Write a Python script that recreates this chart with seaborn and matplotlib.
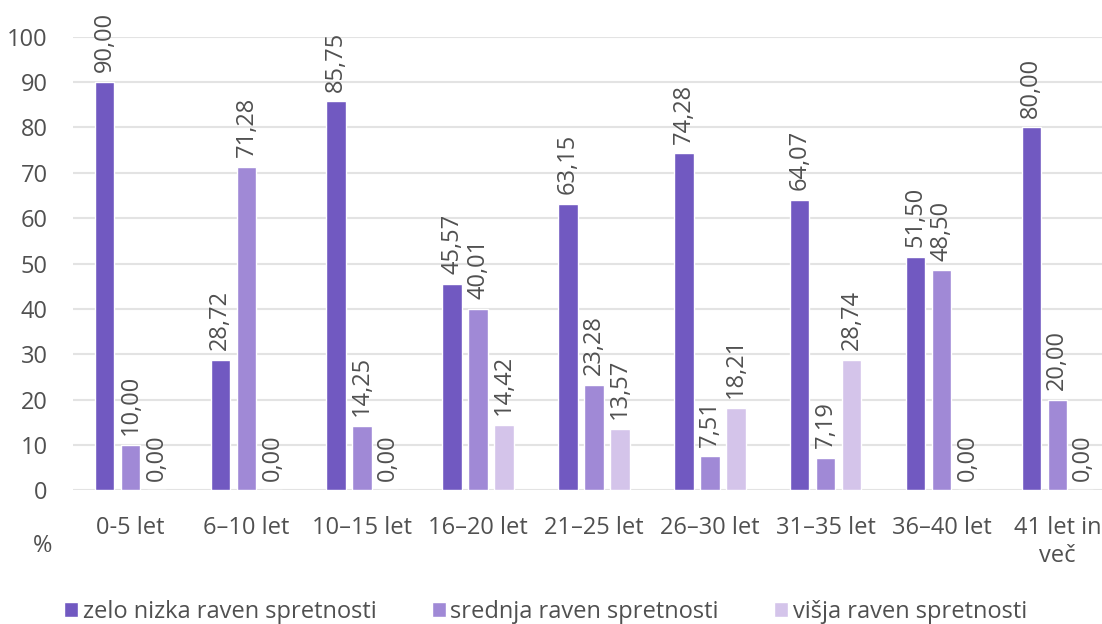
import pandas as pd
import numpy as np
import seaborn as sns
import matplotlib.pyplot as plt

# podatki
groups = ['0-5 let', '6–10 let', '10–15 let', '16–20 let', '21–25 let',
          '26–30 let', '31–35 let', '36–40 let', '41 let in\nveč']
series = ['zelo nizka raven spretnosti', 'srednja raven spretnosti', 'višja raven spretnosti']
nizka = [90.00, 28.72, 85.75, 45.57, 63.15, 74.28, 64.07, 51.50, 80.00]
srednja = [10.00, 71.28, 14.25, 40.01, 23.28, 7.51, 7.19, 48.50, 20.00]
visja = [0.00, 0.00, 0.00, 14.42, 13.57, 18.21, 28.74, 0.00, 0.00]
colors = ['#7159C1', '#A089D6', '#D4C4EA']
txt_col = '#505050'

df = pd.DataFrame({'skupina': groups * 3,
                   'serija': np.repeat(series, len(groups)),
                   'vrednost': nizka + srednja + visja})

sns.set_style('white')
plt.rcParams['font.family'] = ['Open Sans', 'DejaVu Sans']

fig, ax = plt.subplots(figsize=(11.02, 6.24), dpi=100)
fig.subplots_adjust(left=0.0659, right=1.012, top=0.9412, bottom=0.214)

sns.barplot(data=df, x='skupina', y='vrednost', hue='serija', palette=colors,
            width=0.674, gap=0.25, ax=ax, saturation=1)

# oznake vrednosti nad stolpci
for cont in ax.containers:
    labels = [f'{v:.2f}'.replace('.', ',') for v in cont.datavalues]
    ax.bar_label(cont, labels=labels, rotation=90, padding=7, fontsize=17, color=txt_col)

ax.set_ylim(0, 100)
ax.set_yticks(range(0, 101, 10))
ax.yaxis.grid(True, color='#e3e3e3', linewidth=1.5)
ax.set_axisbelow(True)
sns.despine(ax=ax, left=True, bottom=True)
ax.tick_params(axis='both', labelsize=17, colors=txt_col, length=0)
ax.tick_params(axis='x', pad=18.5)
ax.tick_params(axis='y', pad=18)
ax.set_xlabel('')
ax.set_ylabel('')
ax.set_xlim(-0.5, len(groups) - 0.5)
fig.text(0.039, 1 - 546 / 624, '%', fontsize=17, color=txt_col, ha='center', va='center')

ax.legend(loc='center', bbox_to_anchor=(0.495, 1 - 612 / 624), bbox_transform=fig.transFigure,
          ncol=3, frameon=False,
          fontsize=17, handlelength=0.6, handleheight=0.6, handletextpad=0.2,
          columnspacing=2.33, labelcolor=txt_col)

fig.savefig('out.png', dpi=100)
